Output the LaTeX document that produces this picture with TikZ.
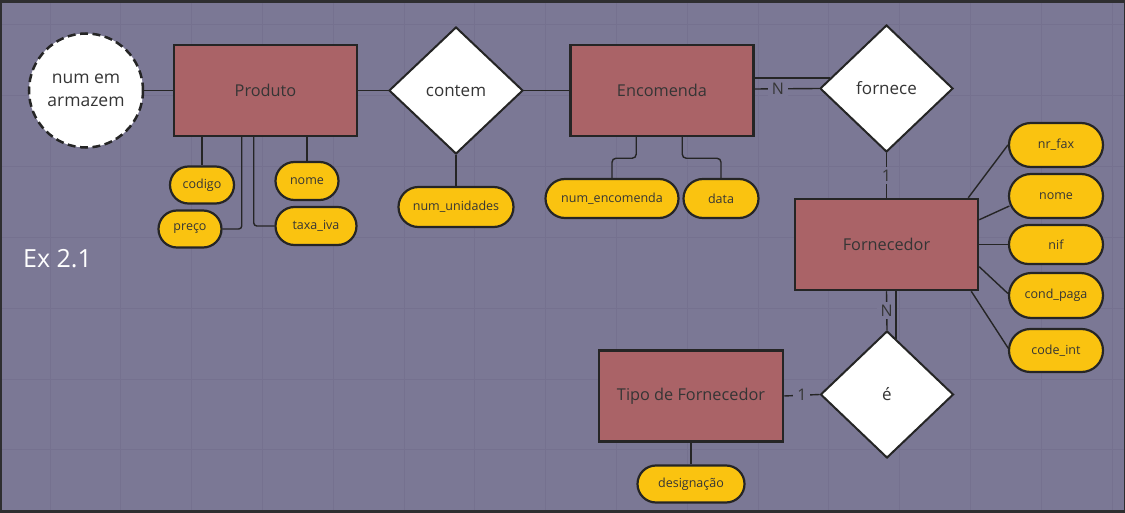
\documentclass[tikz,border=0pt]{standalone}
\usepackage{fontspec}
\setmainfont{Open Sans}
\usetikzlibrary{shapes.geometric,shapes.misc,calc}
\definecolor{bg}{HTML}{7B7895}
\definecolor{gridc}{HTML}{75718F}
\definecolor{bordc}{HTML}{2E2E30}
\definecolor{entc}{HTML}{AA6367}
\definecolor{attrc}{HTML}{FAC310}
\definecolor{outl}{HTML}{252525}
\definecolor{txt}{HTML}{353535}
\tikzset{
  entity/.style={draw=outl, line width=2.5pt, fill=entc, minimum width=183pt, minimum height=91pt, inner sep=0pt, text=txt, font=\fontsize{16.3}{19}\selectfont},
  relbox/.style={diamond, draw=outl, line width=2pt, fill=white, minimum width=133pt, minimum height=127pt, inner sep=0pt, text=txt, font=\fontsize{17}{20}\selectfont},
  attrbox/.style={rounded rectangle, draw=outl, line width=2.2pt, fill=attrc, inner sep=0pt, text=txt, font=\fontsize{12.5}{15}\selectfont},
  derived/.style={circle, draw=outl, line width=2.5pt, dash pattern=on 8pt off 4.5pt, fill=white, minimum size=114pt, inner sep=0pt, align=center, text=txt, font=\fontsize{17.5}{23}\selectfont},
  link/.style={draw=outl, line width=1.4pt},
  card/.style={fill=bg, inner xsep=4pt, inner ysep=3pt, text=txt, font=\fontsize{16}{19}\selectfont},
}
\begin{document}
\begin{tikzpicture}[x=1pt,y=-1pt]
\fill[bg] (0,0) rectangle (1125,513);
\useasboundingbox (0,0) rectangle (1125,513);
% grid
\foreach \i in {0,...,15} \draw[gridc, line width=1pt] ({50+70.8*\i},0) -- ({50+70.8*\i},513);
\foreach \j in {0,...,6} \draw[gridc, line width=1pt] (0,{25+70.8*\j}) -- (1125,{25+70.8*\j});
% frame
\draw[bordc, line width=3pt] (0,1.5) -- (1125,1.5);
\draw[bordc, line width=3pt] (0,511.5) -- (1125,511.5);
\draw[bordc, line width=2pt] (1,0) -- (1,513);
\draw[bordc, line width=1pt] (1124,0) -- (1124,513);

% title
\node[text=white, font=\fontsize{25}{30}\selectfont] (title) at (57.5,259) {Ex 2.1};

% entities
\node[entity] (prod) at (265.5,90.5) {Produto};
\node[entity] (enc) at (662,90.5) {Encomenda};
\node[entity] (forn) at (886.5,244.5) {Fornecedor};
\node[entity, minimum width=184pt] (tipo) at (691,396) {Tipo de Fornecedor};

% relationships
\node[relbox, minimum width=134pt] (rcont) at (456,90.5) {contem};
\node[relbox] (rforn) at (886.5,88.5) {fornece};
\node[relbox] (re) at (887,394.5) {é};

% derived attribute
\node[derived] (armaz) at (86,90.5) {num em\\armazem};

% attributes
\node[attrbox, minimum width=64pt, minimum height=37pt] (codigo) at (202,185) {codigo};
\node[attrbox, minimum width=63pt, minimum height=37pt] (preco) at (190,229) {preço};
\node[attrbox, minimum width=63pt, minimum height=38pt] (nomep) at (307,181) {nome};
\node[attrbox, minimum width=81pt, minimum height=38pt] (taxa) at (316,226) {taxa\_iva};
\node[attrbox, minimum width=115pt, minimum height=40pt] (numu) at (456,207) {num\_unidades};
\node[attrbox, minimum width=133pt, minimum height=39pt] (nenc) at (612,198.5) {num\_encomenda};
\node[attrbox, minimum width=75pt, minimum height=39pt] (data) at (721,198.5) {data};
\node[attrbox, minimum width=94pt, minimum height=44pt] (nrfax) at (1056,145) {nr\_fax};
\node[attrbox, minimum width=94pt, minimum height=44pt] (nomef) at (1056,196) {nome};
\node[attrbox, minimum width=94pt, minimum height=39pt] (nif) at (1056,244.5) {nif};
\node[attrbox, minimum width=94pt, minimum height=45pt] (cond) at (1056,295.5) {cond\_paga};
\node[attrbox, minimum width=94pt, minimum height=43pt] (code) at (1056,350.5) {code\_int};
\node[attrbox, minimum width=107pt, minimum height=37pt] (desig) at (691,484) {designação};

% connectors: Produto
\draw[link] (armaz.east) -- (prod.west);
\draw[link] (prod.east) -- (rcont.west);
\draw[link] (rcont.east) -- (enc.west);
\draw[link] (prod.south -| codigo.north) -- (codigo.north);
\draw[link] (prod.south -| nomep.north) -- (nomep.north);
\draw[link, rounded corners=3pt] ($(prod.south west)+(69,0)$) |- (preco.east);
\draw[link, rounded corners=3pt] ($(prod.south west)+(81,0)$) |- (taxa.west);
\draw[link] (rcont.south) -- (numu.north);

% connectors: Encomenda
\draw[link, rounded corners=4pt] ($(enc.south west)+(67,0)$) -- ++(0,21) -| (nenc.north);
\draw[link, rounded corners=4pt] ($(enc.south west)+(113,0)$) -- ++(0,21) -| ($(data.north west)+(18,0)$);
\draw[link] ($(enc.east)+(0,-12.5)$) -- ($(rforn.west)+(11,-10.5)$);
\draw[link] ($(enc.east)+(0,-1.5)$) -- node[card, pos=0.36] (cN1) {N} (rforn.west);

% connectors: fornece / Fornecedor
\draw[link] (rforn.south) -- node[card] (c11) {1} (forn.north);
\draw[link] ($(forn.north east)+(-11,0)$) -- (nrfax.west);
\draw[link] ($(forn.north east)+(0,22)$) -- ($(nomef.west)+(1.5,10)$);
\draw[link] (forn.east) -- (nif.west);
\draw[link] ($(forn.north east)+(0,69)$) -- ($(cond.west)+(0,-2)$);
\draw[link] ($(forn.south east)+(-8,0)$) -- ($(code.west)+(0.5,-2)$);

% connectors: é
\draw[link] (forn.south) -- node[card] (cN2) {N} (re.north);
\draw[link] ($(forn.south)+(9.5,0)$) -- ($(re.north)+(9,8.6)$);
\draw[link] (tipo.east) -- node[card] (c12) {1} (re.west);
\draw[link] (tipo.south) -- (desig.north);
\end{tikzpicture}
\end{document}
